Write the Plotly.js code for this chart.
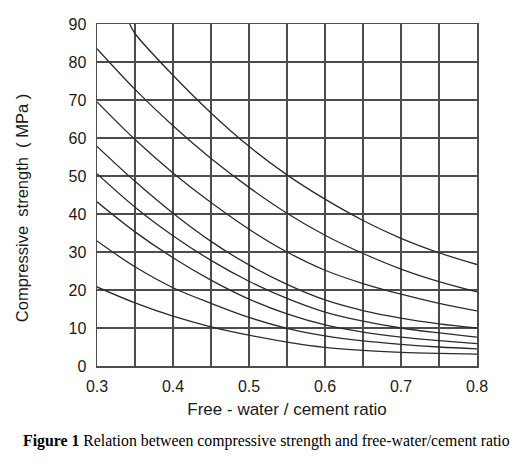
<!DOCTYPE html>
<html>
<head>
<meta charset="utf-8">
<script src="https://cdn.plot.ly/plotly-3.0.1.min.js"></script>
<style>
  html, body { margin: 0; padding: 0; background: #fff; }
  #chart { width: 520px; height: 472px; }
</style>
</head>
<body>
<div id="chart"></div>
<script>
// Free-water / cement ratio sample points
var wcRatio = [0.30, 0.35, 0.40, 0.45, 0.50, 0.55, 0.60, 0.65, 0.70, 0.75, 0.80];
// Top curve starts where it leaves the 90 MPa top edge
var curve1Ratio = [0.343, 0.35, 0.40, 0.45, 0.50, 0.55, 0.60, 0.65, 0.70, 0.75, 0.80];

// Compressive strength (MPa), top curve to bottom curve
var curve1 = [90.0, 87.5, 76.5, 66.6, 57.8, 50.3, 43.9, 38.3, 33.6, 29.8, 26.7];
var curve2 = [83.5, 72.8, 63.2, 54.6, 47.0, 40.2, 34.4, 29.6, 25.5, 22.2, 19.5];
var curve3 = [69.5, 59.6, 50.8, 43.0, 36.0, 30.0, 25.2, 21.7, 18.9, 16.5, 14.5];
var curve4 = [57.8, 48.6, 40.2, 32.8, 26.6, 21.5, 17.4, 14.6, 12.6, 11.1, 10.0];
var curve5 = [50.6, 41.8, 34.3, 27.8, 22.3, 17.8, 14.2, 11.8, 10.0, 8.7, 7.6];
var curve6 = [43.2, 35.3, 28.5, 22.6, 17.6, 13.7, 10.8, 8.9, 7.6, 6.7, 5.9];
var curve7 = [32.9, 26.1, 20.6, 16.5, 12.8, 9.9, 7.9, 6.6, 5.7, 5.0, 4.5];
var curve8 = [20.8, 16.6, 13.1, 10.3, 8.1, 6.3, 4.9, 4.1, 3.6, 3.3, 3.1];

var xTickVals = [0.3, 0.4, 0.5, 0.6, 0.7, 0.8];
var xTickText = ['0.3', '0.4', '0.5', '0.6', '0.7', '0.8'];
var yTickVals = [0, 10, 20, 30, 40, 50, 60, 70, 80, 90];

var xTitle = 'Free - water / cement ratio';
var yTitle = 'Compressive  strength  ( MPa )';
var captionBold = 'Figure 1';
var captionText = ' Relation between compressive strength and free-water/cement ratio';

var seriesY = [curve1, curve2, curve3, curve4, curve5, curve6, curve7, curve8];
var lineColor = '#2b2b2b';

var traces = seriesY.map(function (ys, i) {
  return {
    x: i === 0 ? curve1Ratio : wcRatio,
    y: ys,
    type: 'scatter',
    mode: 'lines',
    line: { color: lineColor, width: 1.3, shape: 'spline', smoothing: 1 },
    hoverinfo: 'x+y',
    showlegend: false
  };
});

var gridColor = '#4d4d4d';

var layout = {
  width: 520,
  height: 472,
  margin: { l: 97, r: 43, t: 24, b: 106 },
  paper_bgcolor: '#ffffff',
  plot_bgcolor: '#ffffff',
  font: { family: 'Liberation Sans, Arial, sans-serif', color: '#1a1a1a', size: 16 },
  xaxis: {
    range: [0.3, 0.8],
    tickvals: xTickVals,
    ticktext: xTickText,
    showgrid: true,
    gridcolor: gridColor,
    gridwidth: 1.1,
    minor: { dtick: 0.05, tick0: 0.3, showgrid: true, gridcolor: gridColor, gridwidth: 1.1 },
    zeroline: false,
    showline: true,
    linecolor: gridColor,
    linewidth: 1.5,
    mirror: true,
    ticks: '',
    ticklabelstandoff: 5,
    tickfont: { size: 16, color: '#1a1a1a' },
    title: { text: xTitle, font: { size: 17, color: '#1a1a1a' }, standoff: 9 }
  },
  yaxis: {
    range: [0, 90],
    tickvals: yTickVals,
    showgrid: true,
    gridcolor: gridColor,
    gridwidth: 1.1,
    zeroline: false,
    showline: true,
    linecolor: gridColor,
    linewidth: 1.5,
    mirror: true,
    ticks: '',
    ticklabelstandoff: 6,
    tickfont: { size: 16, color: '#1a1a1a' }
  },
  annotations: [{
    xref: 'paper', yref: 'paper',
    x: -0.197, y: 0.462,
    xanchor: 'center', yanchor: 'middle',
    textangle: -90,
    showarrow: false,
    text: yTitle,
    font: { size: 16.5, color: '#1a1a1a' }
  }, {
    xref: 'paper', yref: 'paper',
    x: 0.447, y: -0.219,
    xanchor: 'center', yanchor: 'middle',
    showarrow: false,
    text: '<b>' + captionBold + '</b>' + captionText,
    font: { family: 'Liberation Serif, Times New Roman, serif', size: 15.8, color: '#000' }
  }]
};

Plotly.newPlot('chart', traces, layout, { displayModeBar: false, staticPlot: true });
</script>
</body>
</html>
